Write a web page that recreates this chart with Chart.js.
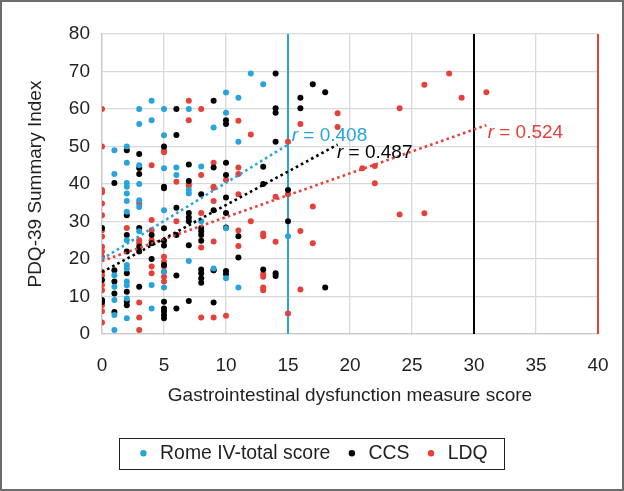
<!DOCTYPE html>
<html>
<head>
<meta charset="utf-8">
<script src="https://cdn.jsdelivr.net/npm/chart.js@4.4.1/dist/chart.umd.min.js"></script>
<style>
html,body{margin:0;padding:0;background:#fff;}
#wrap{width:624px;height:491px;position:relative;}
</style>
</head>
<body>
<div id="wrap"><canvas id="c" width="624" height="491"></canvas></div>
<script>
// ---- Data ----
const seriesNames = ["Rome IV-total score", "CCS", "LDQ"];

const romeX = [1,1,1,1,1,1,1, 2,2,2,2,2,2,2,2,2,2,2,2,2,2, 3,3,3,3,3,3,3, 4,4,4,4, 5,5,5,5,5,5, 6,6, 7,7,7,7, 8,8, 9,9, 10,10,10,10, 11,11,11, 12, 13, 15];
const romeY = [49,42.7,15.7,12.6,9.1,5.1,1.1, 50,45.7,40.3,39.3,37.5,35.5,32.6,25,18.4,17.5,14,13,9.5,4.2, 60,56,45,40,35.7,33.9,27.4, 62.2,57,13.1,6.8, 60,53,44.2,33,16.6,12.4, 44.4,42.4, 60,38.4,37.5,19.5, 44.7,30.1, 55.1,17.5, 64.4,59,28.2,14.9, 63,51.3,12.4, 69.5, 66.6, 26.1];

const ccsX = [0,0,0,0, 1,1,1,1,1, 2,2,2,2,2,2,2,2, 3,3,3,3,3,3,3, 4,4,4, 5,5,5,5,5,5,5,5,5,5,5,5, 6,6,6,6,6,6, 7,7,7,7,7,7,7, 8,8,8,8,8,8,8,8,8, 9,9,9,9,9, 10,10,10,10,10,10,10,10,10, 11,11, 13,13,13, 14,14,14,14,14,14, 15,15, 16,16, 17, 18,18];
const ccsY = [28.3,14.4,9.1,8.5, 40.3,17,14,10.8,5.9, 49,31.7,26.4,22,16.2,11.3,8.7,7.7, 48,44.3,42.7,28.3,23.3,22,12.6, 26.4,24.2,20, 50,39.3,38.9,28.2,24.9,23.6,18.4,8.6,6.8,6,5.1,4.2, 60,53.1,33.7,26.4,15.6,6.8, 45.2,40.8,32.3,31.1,30.1,23.7,8.8, 37.3,28.3,27.4,26.4,24.9,17.2,16.2,14.9,13.7, 62.2,44.4,33,17,8.4, 57,56,45.7,42.4,36.4,32.3,28.4,16.8,16, 26.1,20.4, 44.6,40,17.2, 69.5,60.2,59,51.3,16.2,15.5, 38.4,30.1, 63,60.2, 66.6, 64.5,12.4];

const ldqX = [0,0,0,0,0,0,0,0,0,0,0,0,0,0,0,0,0,0, 2, 3,3,3,3,3,3, 4,4,4,4,4,4, 5,5,5,5,5,5,5,5, 6,6, 7,7,7,7, 8,8,8,8,8, 9,9,9,9,9,9,9, 10,10, 11,11,11,11,11,11, 12,12, 13,13,13,13,13,13, 14,14, 15,15,15, 16,16,16, 17,17, 19,19, 21, 22,22, 24,24, 26,26, 28, 29, 31];
const ldqY = [60,50,38.4,37.8,34.8,31.7,27.7,26,23.3,22,20.6,16.6,15.7,13.1,11.7,7.7,6.1,3.1, 28.3, 34.8,25,24.2,8.4,4.4,1.1, 45,30.4,27.7,25,18,16.2, 49,48.5,20.6,19.3,18,16.6,15.3,14, 40.6,30.1, 62.2,57,40,39.5, 60,42.4,32.3,23.1,4.4, 45.7,39.3,39,35.5,24.7,17,4.4, 41.1,4.9, 56.9,44.4,42.7,37.3,27.6,23.5, 53.2,30.1, 26.8,26.1,16,15.3,12.4,11.7, 36.6,24.6, 51.3,37.3,5.5, 56,27.5,11.9, 34,24.2, 58.9,55.2, 44.2, 44.8,40.2, 60.2,31.9, 66.5,32.2, 69.5, 63, 64.5];

// Linear trend lines (start and end of each dotted fit)
const romeTrendX = [0, 15];   const romeTrendY = [20, 50.5];
const ccsTrendX  = [0, 19];   const ccsTrendY  = [16.5, 50.5];
const ldqTrendX  = [0, 31];   const ldqTrendY  = [19.5, 55.7];

// Maximum score of each measure (vertical reference lines)
const maxScores = [15, 30, 40];
const rValues = ["0.408", "0.487", "0.524"];

const xTicks = [0,5,10,15,20,25,30,35,40];
const yTicks = [0,10,20,30,40,50,60,70,80];

// ---- Styling ----
const BLUE = "#27a4dc", BLACK = "#000000", RED = "#e5413b";
const colors = [BLUE, BLACK, RED];
const FONT = "'Liberation Sans', Arial, sans-serif";
const TXT = "#231f20";

const pts = (xs, ys) => xs.map((x, i) => ({x: x, y: ys[i]}));

const scatterDs = (label, xs, ys, color) => ({
  type: 'scatter', label, data: pts(xs, ys),
  backgroundColor: color, borderColor: color, borderWidth: 0,
  pointRadius: 3, pointHoverRadius: 3, order: 2
});
const trendDs = (xs, ys, color) => ({
  type: 'line', label: '_trend', data: pts(xs, ys), borderColor: color,
  borderWidth: 2.6, borderDash: [2.6, 3.2], pointRadius: 0, fill: false, order: 1, clip: false
});
const vlineDs = (xv, color) => ({
  type: 'line', label: '_vline', data: [{x: xv, y: yTicks[0]}, {x: xv, y: yTicks[yTicks.length-1]}],
  borderColor: color, borderWidth: 2, pointRadius: 0, fill: false, order: 3, clip: false
});

const datasets = [
  scatterDs(seriesNames[0], romeX, romeY, BLUE),
  scatterDs(seriesNames[1], ccsX, ccsY, BLACK),
  scatterDs(seriesNames[2], ldqX, ldqY, RED),
  trendDs(romeTrendX, romeTrendY, BLUE),
  trendDs(ccsTrendX, ccsTrendY, BLACK),
  trendDs(ldqTrendX, ldqTrendY, RED),
  vlineDs(maxScores[0], BLUE),
  vlineDs(maxScores[1], BLACK),
  vlineDs(maxScores[2], RED)
];

// r-value annotation anchors, in data units (left/baseline)
const rAnchors = [{x: 15.3, y: 51.4, size: 19}, {x: 18.95, y: 46.9, size: 19}, {x: 31.1, y: 52.2, size: 19}];

const annotate = {
  id: 'rlabels',
  afterDatasetsDraw(chart) {
    const {ctx, scales: {x, y}} = chart;
    ctx.save();
    ctx.textBaseline = 'alphabetic';
    ctx.textAlign = 'left';
    rAnchors.forEach((a, i) => {
      const px = x.getPixelForValue(a.x), py = y.getPixelForValue(a.y);
      ctx.fillStyle = colors[i];
      ctx.font = `italic ${a.size}px ${FONT}`;
      ctx.fillText('r', px, py);
      const w = ctx.measureText('r').width;
      ctx.font = `${a.size}px ${FONT}`;
      ctx.fillText(' = ' + rValues[i], px + w, py);
    });
    ctx.restore();
  }
};

// nudge the legend block slightly right (the reference legend is off-centre)
const legendShift = {
  id: 'legendShift',
  afterLayout(chart) {
    const lg = chart.legend;
    if (lg) { lg.left += 3; lg.right += 3; }
  }
};

const frame = {
  id: 'frame',
  beforeDraw(chart) {
    const ctx = chart.ctx;
    ctx.save();
    ctx.fillStyle = '#fff';
    ctx.fillRect(0, 0, chart.width, chart.height);
    ctx.restore();
  },
  afterDraw(chart) {
    const ctx = chart.ctx;
    ctx.save();
    // legend border
    const lg = chart.legend;
    if (lg && lg.legendHitBoxes && lg.legendHitBoxes.length) {
      const hb = lg.legendHitBoxes;
      const l = hb[0].left, r = hb[hb.length-1].left + hb[hb.length-1].width;
      const cy = hb[0].top + hb[0].height / 2;
      ctx.strokeStyle = '#231f20';
      ctx.lineWidth = 1;
      ctx.strokeRect(Math.round(l - 17) + 0.5, Math.round(cy - 15.5) + 0.5, Math.round(r - l + 34), 31);
    }
    // outer frame
    ctx.strokeStyle = '#6d6d6d';
    ctx.lineWidth = 2;
    ctx.strokeRect(1, 1, chart.width - 2, chart.height - 2);
    ctx.restore();
  }
};

Chart.defaults.font.family = FONT;
Chart.defaults.color = TXT;

new Chart(document.getElementById('c'), {
  type: 'scatter',
  data: { datasets },
  options: {
    responsive: false,
    animation: false,
    events: [],
    layout: { padding: { left: 20, right: 26, top: 34, bottom: 18 } },
    plugins: {
      tooltip: { enabled: false },
      legend: {
        position: 'bottom',
        align: 'center',
        labels: {
          filter: (item) => !item.text.startsWith('_'),
          usePointStyle: true,
          pointStyle: 'circle',
          boxWidth: 14,
          boxHeight: 4.5,
          padding: 14.5,
          color: TXT,
          font: { size: 19.4, family: FONT }
        }
      }
    },
    scales: {
      x: {
        type: 'linear', min: 0, max: 40,
        afterBuildTicks: (s) => { s.ticks = xTicks.map(v => ({value: v})); },
        afterFit: (s) => { s.height = 95; s.paddingLeft = 0; s.paddingRight = 0; },
        grid: { color: '#d9d9d9', lineWidth: 1.3, drawTicks: false },
        border: { color: '#c8c8c8', width: 1.3 },
        ticks: { padding: 20, font: { size: 19 }, color: TXT },
        title: { display: true, text: 'Gastrointestinal dysfunction measure score', font: { size: 19 }, color: TXT, padding: { top: 4, bottom: 22 } }
      },
      y: {
        type: 'linear', min: 0, max: 80,
        afterBuildTicks: (s) => { s.ticks = yTicks.map(v => ({value: v})); },
        afterFit: (s) => { s.width = 82; s.paddingTop = 0; s.paddingBottom = 0; },
        grid: { color: '#d9d9d9', lineWidth: 1.3, drawTicks: false },
        border: { color: '#c8c8c8', width: 1.3 },
        ticks: { padding: 12, font: { size: 19 }, color: TXT },
        title: { display: true, text: 'PDQ-39 Summary Index', font: { size: 19 }, color: TXT, padding: { top: 4, bottom: 4 } }
      }
    }
  },
  plugins: [annotate, legendShift, frame]
});
</script>
</body>
</html>
